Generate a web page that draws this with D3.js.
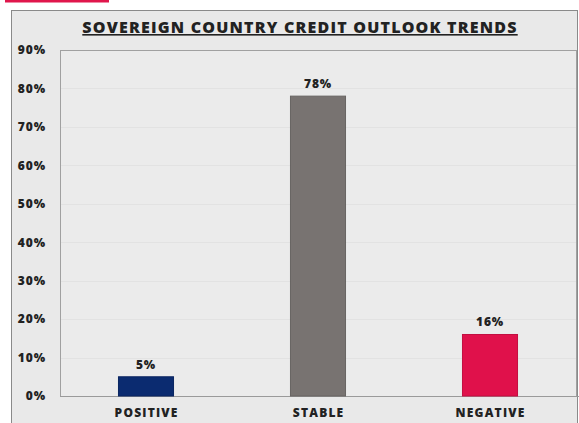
<!DOCTYPE html>
<html>
<head>
<meta charset="utf-8">
<script src="https://cdn.jsdelivr.net/npm/d3@7"></script>
<style>
    body { margin: 0; background: #fff; }
    svg text { font-family: "Open Sans", "DejaVu Sans", sans-serif; font-weight: 800; fill: #222; }
</style>
</head>
<body>
<svg id="chart" width="579" height="423"></svg>
<script>
const categories = ['POSITIVE', 'STABLE', 'NEGATIVE'];
const values = [5, 78, 16];
const barColors = ['#0b2b70', '#787371', '#e0114b'];
const tickValues = [0, 10, 20, 30, 40, 50, 60, 70, 80, 90];
const title = 'SOVEREIGN COUNTRY CREDIT OUTLOOK TRENDS';

const svg = d3.select('#chart');
const width = 579;
const height = 423;

const margin = { top: 50, right: 3, bottom: 27, left: 60 };
const plotW = width - margin.left - margin.right;
const plotH = height - margin.top - margin.bottom;

// red accent line at the very top
svg.append('rect')
    .attr('x', 5).attr('y', 0)
    .attr('width', 104).attr('height', 2.5)
    .attr('fill', '#e0164c');

// outer panel
svg.append('rect')
    .attr('x', 11.5).attr('y', 10.5)
    .attr('width', width - 13).attr('height', height)
    .attr('fill', '#e9e9e9')
    .attr('stroke', '#8a8a8a');

svg.append('text')
    .attr('x', 300).attr('y', 33)
    .attr('text-anchor', 'middle')
    .attr('font-size', 16)
    .attr('letter-spacing', 1.2)
    .attr('text-decoration', 'underline')
    .text(title);

const x = d3.scaleBand()
    .domain(categories)
    .range([0, plotW])
    .paddingInner(0.68)
    .paddingOuter(0.34);

const y = d3.scaleLinear()
    .domain([0, 90])
    .range([plotH, 0]);

const g = svg.append('g')
    .attr('transform', `translate(${margin.left},${margin.top})`);

// plot box
g.append('rect')
    .attr('x', 0.5).attr('y', 0.5)
    .attr('width', plotW).attr('height', plotH)
    .attr('fill', '#ebebeb')
    .attr('stroke', '#a0a0a0');

// faint grid lines
g.selectAll('line.grid')
    .data(tickValues.slice(1, -1))
    .enter()
    .append('line')
    .attr('class', 'grid')
    .attr('x1', 1).attr('x2', plotW)
    .attr('y1', d => Math.round(y(d)) + 0.5)
    .attr('y2', d => Math.round(y(d)) + 0.5)
    .attr('stroke', '#e2e2e2');

const yAxis = g.append('g')
    .call(d3.axisLeft(y).tickValues(tickValues).tickSize(0).tickPadding(14).tickFormat(d => d + '%'));
yAxis.select('.domain').remove();
yAxis.selectAll('text').attr('font-size', 12).attr('letter-spacing', 0.9).attr('fill', '#222');

// baseline
g.append('line')
    .attr('x1', 0).attr('x2', plotW + 3)
    .attr('y1', plotH + 0.5).attr('y2', plotH + 0.5)
    .attr('stroke', '#9a9a9a');

const xAxis = g.append('g')
    .attr('transform', `translate(0,${plotH})`)
    .call(d3.axisBottom(x).tickSize(0).tickPadding(12));
xAxis.select('.domain').remove();
xAxis.selectAll('text')
    .attr('font-size', 12)
    .attr('letter-spacing', 1.2)
    .attr('dx', 0.6)
    .attr('fill', '#222');

g.selectAll('rect.bar')
    .data(values)
    .enter()
    .append('rect')
    .attr('class', 'bar')
    .attr('x', (d, i) => x(categories[i]))
    .attr('y', d => y(d))
    .attr('width', x.bandwidth())
    .attr('height', d => plotH - y(d))
    .attr('fill', (d, i) => barColors[i])
    .attr('stroke', (d, i) => d3.color(barColors[i]).darker(0.4))
    .attr('stroke-width', 1);

g.selectAll('text.value')
    .data(values)
    .enter()
    .append('text')
    .attr('class', 'value')
    .attr('x', (d, i) => x(categories[i]) + x.bandwidth() / 2)
    .attr('y', d => y(d) - 8)
    .attr('text-anchor', 'middle')
    .attr('font-size', 12)
    .attr('letter-spacing', 0.8)
    .text(d => d + '%');
</script>
</body>
</html>
